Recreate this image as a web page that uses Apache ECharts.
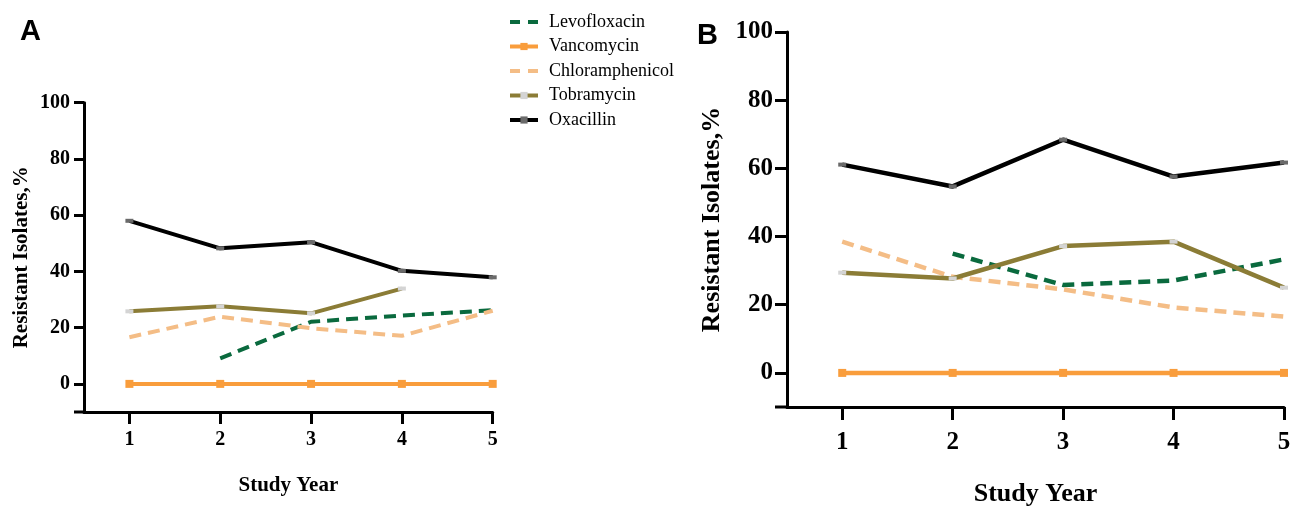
<!DOCTYPE html>
<html>
<head>
<meta charset="utf-8">
<script src="https://cdn.jsdelivr.net/npm/echarts@6/dist/echarts.min.js"></script>
<style>html,body{margin:0;padding:0;background:#fff}#c{width:1301px;height:506px}</style>
</head>
<body>
<div id="c"></div>
<script>
const years = [1, 2, 3, 4, 5];
const yTicks = [0, 20, 40, 60, 80, 100];
const names = ['Levofloxacin', 'Vancomycin', 'Chloramphenicol', 'Tobramycin', 'Oxacillin'];
// Panel A
const levoA = [null, 9.1, 22.1, 24.3, 26.2];
const vancoA = [0, 0, 0, 0, 0];
const chloroA = [16.6, 23.9, 19.8, 17.1, 26.0];
const tobraA = [25.8, 27.6, 25.1, 33.9, null];
const oxaA = [58.0, 48.2, 50.4, 40.2, 37.9];
// Panel B
const levoB = [null, 35.0, 25.8, 27.1, 33.3];
const vancoB = [0, 0, 0, 0, 0];
const chloroB = [38.5, 28.2, 24.5, 19.2, 16.5];
const tobraB = [29.4, 27.7, 37.2, 38.5, 25.0];
const oxaB = [61.1, 54.7, 68.4, 57.6, 61.7];

const SERIF = '"Liberation Serif", "Times New Roman", serif';
const pairs = arr => years.map((x, i) => [x, arr[i]]).filter(p => p[1] !== null);

const styles = {
  Levofloxacin: {color: '#0a6a3e', dash: [12, 7], show: false, sym: 1, symColor: '#0a6a3e'},
  Vancomycin: {color: '#f99d3c', dash: 'solid', show: true, sym: 8, symColor: '#f99d3c'},
  Chloramphenicol: {color: '#f4bd86', dash: [12, 7], show: false, sym: 1, symColor: '#f4bd86'},
  Tobramycin: {color: '#8b7c36', dash: 'solid', show: true, sym: [8, 4], symColor: '#d4d4d4'},
  Oxacillin: {color: '#000000', dash: 'solid', show: true, sym: [8, 4], symColor: '#6a6a6a'}
};

function mkSeries(grid, dataArrs, w) {
  return names.map((n, i) => {
    const s = styles[n];
    return {
      name: n, type: 'line', xAxisIndex: grid, yAxisIndex: grid,
      data: pairs(dataArrs[i]),
      symbol: 'rect', symbolSize: s.sym, showSymbol: s.show,
      itemStyle: {color: s.symColor},
      lineStyle: {color: s.color, width: w, type: s.dash},
      emphasis: {disabled: true}, animation: false, z: 2 + i
    };
  });
}

function mkX(grid, fs, labelMargin, nameGap, nameFs, tickLen) {
  return {
    gridIndex: grid, type: 'value', min: 0.5, max: 5,
    axisLine: {show: true, onZero: false, lineStyle: {color: '#000', width: 3}},
    axisTick: {show: true, length: tickLen, customValues: years, lineStyle: {color: '#000', width: 3}},
    axisLabel: {customValues: years, margin: labelMargin, color: '#000', fontFamily: SERIF, fontWeight: 'bold', fontSize: fs},
    splitLine: {show: false},
    name: 'Study Year', nameLocation: 'middle', nameGap: nameGap,
    nameTextStyle: {color: '#000', fontFamily: SERIF, fontWeight: 'bold', fontSize: nameFs}
  };
}
function mkY(grid, fs, labelMargin, nameGap, nameFs, tickLen) {
  return {
    gridIndex: grid, type: 'value', min: -10, max: 100,
    axisLine: {show: true, onZero: false, lineStyle: {color: '#000', width: 3}},
    axisTick: {show: true, length: tickLen, customValues: yTicks, lineStyle: {color: '#000', width: 3}},
    axisLabel: {customValues: yTicks, margin: labelMargin, color: '#000', fontFamily: SERIF, fontWeight: 'bold', fontSize: fs},
    splitLine: {show: false},
    name: 'Resistant Isolates,%', nameLocation: 'middle', nameGap: nameGap,
    nameTextStyle: {color: '#000', fontFamily: SERIF, fontWeight: 'bold', fontSize: nameFs}
  };
}

const legendData = names.map(n => {
  const s = styles[n];
  if (!s.show) {
    return {name: n, itemStyle: {opacity: 0}, lineStyle: {type: [10, 8], width: 4, color: s.color}};
  }
  return {name: n, lineStyle: {width: 4, color: s.color}};
});

const chart = echarts.init(document.getElementById('c'), null, {renderer: 'canvas'});
chart.setOption({
  animation: false,
  backgroundColor: '#fff',
  title: [
    {text: 'A', left: 15, top: 12, textStyle: {fontFamily: '"Liberation Sans", Arial, sans-serif', fontWeight: 'bold', fontSize: 29, color: '#000'}},
    {text: 'B', left: 692, top: 16, textStyle: {fontFamily: '"Liberation Sans", Arial, sans-serif', fontWeight: 'bold', fontSize: 29, color: '#000'}}
  ],
  legend: {
    data: legendData, orient: 'vertical', left: 503, top: 8,
    itemWidth: 28, itemHeight: 9, itemGap: 6.5,
    textStyle: {fontFamily: SERIF, fontSize: 18, color: '#000', lineHeight: 18, padding: [0, 0, 0, 6]},
    selectedMode: false
  },
  grid: [
    {left: 84, top: 102.7, width: 408.7, height: 309.3, containLabel: false, outerBoundsMode: 'none'},
    {left: 787, top: 32, width: 497, height: 375, containLabel: false, outerBoundsMode: 'none'}
  ],
  xAxis: [mkX(0, 20, 18, 63, 21, 12), mkX(1, 25, 23, 74, 26, 13)],
  yAxis: [mkY(0, 20, 14, 52, 21, 10), mkY(1, 25, 14, 62, 26, 12)],
  series: [].concat(
    mkSeries(0, [levoA, vancoA, chloroA, tobraA, oxaA], 4),
    mkSeries(1, [levoB, vancoB, chloroB, tobraB, oxaB], 4.5)
  )
});
// extend each x-axis line left to the end of the y ticks
const ext = [];
[[0, 10], [1, 12]].forEach(([g, len]) => {
  const p = chart.convertToPixel({gridIndex: g}, [0.5, -10]);
  ext.push({type: 'line', shape: {x1: p[0] - len, y1: p[1], x2: p[0], y2: p[1]}, style: {stroke: '#000', lineWidth: 3}, z: 10});
});
chart.setOption({graphic: ext});
</script>
</body>
</html>
